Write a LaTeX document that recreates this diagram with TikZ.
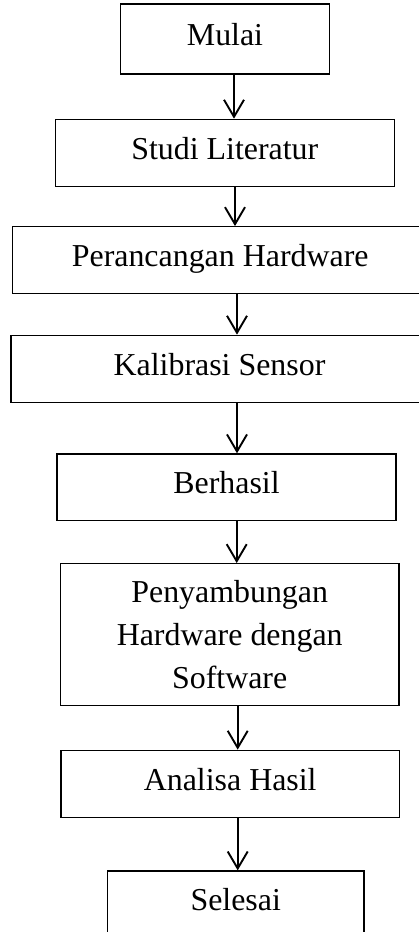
\documentclass[tikz,border=0pt]{standalone}
\usepackage{fontspec}
\setmainfont{Liberation Serif}
\usetikzlibrary{arrows.meta}
\begin{document}
\begin{tikzpicture}[x=1pt,y=-1pt,
  box/.style={draw=black, line width=1.3pt, rectangle, inner sep=0pt,
    font=\fontsize{31.9}{42.7}\selectfont, text height=22pt, text depth=10pt},
  multibox/.style={draw=black, line width=1.3pt, rectangle, inner sep=0pt,
    font=\fontsize{31.9}{42.7}\selectfont, align=center},
  arr/.style={line width=1.9pt, -{Straight Barb[length=17pt,width=20pt,line width=1.9pt]}}]
\useasboundingbox (0,0) rectangle (419,932);
\clip (0,0) rectangle (419,932);
\node[box, minimum width=208.6pt, minimum height=70pt] (n1) at (225,39) {Mulai};
\node[box, minimum width=339pt, minimum height=67.4pt] (n2) at (224.8,153) {Studi Literatur};
\node[box, minimum width=415.7pt, minimum height=66.6pt] (n3) at (220.2,260) {Perancangan Hardware};
\node[box, minimum width=417pt, minimum height=67.4pt] (n4) at (219.5,369) {Kalibrasi Sensor};
\node[box, minimum width=339pt, minimum height=66.7pt] (n5) at (226.5,487.3) {Berhasil};
\node[multibox, minimum width=338.7pt, minimum height=142pt] (n6) at (229.7,634.7) {Penyambungan\\Hardware dengan\\Software};
\node[box, minimum width=338.3pt, minimum height=67.4pt] (n7) at (230.2,784) {Analisa Hasil};
\node[box, minimum width=256.7pt, minimum height=67pt] (n8) at (235.7,904.5) {Selesai};
\draw[arr] (n1.south -| 234,0) -- (n2.north -| 234,0);
\draw[arr] (n2.south -| 235,0) -- (n3.north -| 235,0);
\draw[arr] (n3.south -| 237,0) -- (n4.north -| 237,0);
\draw[arr] (n4.south -| 237,0) -- (n5.north -| 237,0);
\draw[arr] (n5.south -| 236.7,0) -- (n6.north -| 236.7,0);
\draw[arr] (n6.south -| 237.7,0) -- (n7.north -| 237.7,0);
\draw[arr] (n7.south -| 237.7,0) -- (n8.north -| 237.7,0);
\end{tikzpicture}
\end{document}
